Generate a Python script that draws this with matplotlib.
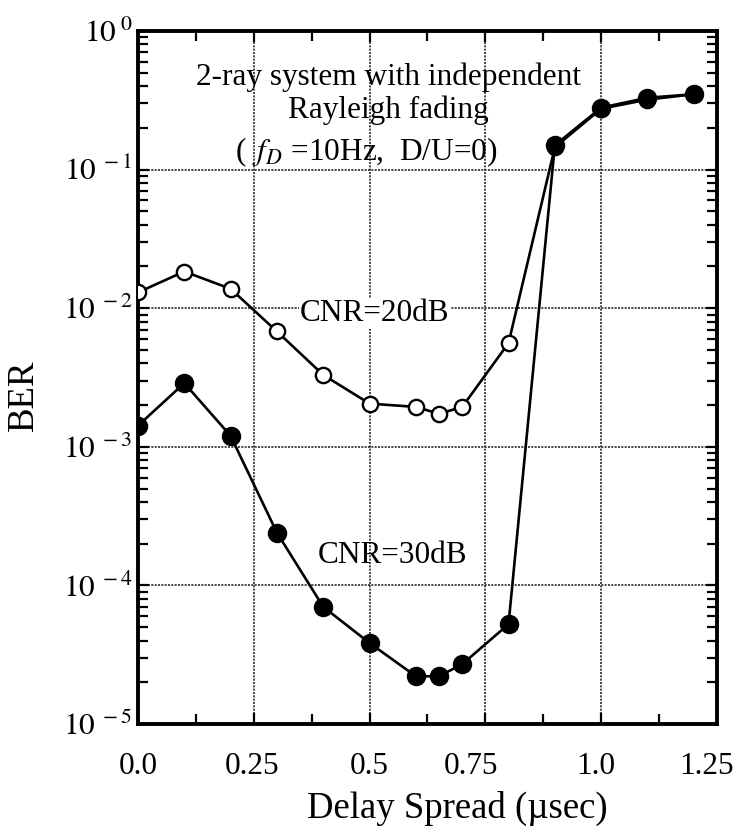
import math
import matplotlib
matplotlib.use("Agg")
import matplotlib.pyplot as plt
import matplotlib.ticker as ticker
import matplotlib.transforms as mtrans
from matplotlib.patches import Rectangle

plt.rcParams["font.family"] = "Liberation Serif"
plt.rcParams["mathtext.fontset"] = "stix"

# delay spread (usec)
delay = [0.0, 0.1, 0.2, 0.3, 0.4, 0.5, 0.6, 0.65, 0.7, 0.8, 0.9, 1.0, 1.1, 1.2]
# BER
ber_20db = [0.013, 0.0184, 0.0138, 0.0068, 0.0033, 0.00205, 0.00194, 0.00173,
            0.00194, 0.0056, 0.145, 0.275, 0.32, 0.35]
ber_30db = [0.00142, 0.00288, 0.0012, 0.00024, 7.0e-5, 3.84e-5, 2.21e-5, 2.21e-5,
            2.7e-5, 5.25e-5, 0.15, 0.28, 0.33, 0.35]

xticks = [0.0, 0.25, 0.5, 0.75, 1.0, 1.25]
xtick_labels = ["0.0", "0.25", "0.5", "0.75", "1.0", "1.25"]
xlabel_shift_px = [0, -2, 0, -14, -5, -10]
FS = 22.5
FS_LABEL = 26.5

fig = plt.figure(figsize=(7.39, 8.34), dpi=100)
ax = fig.add_axes([0.1867, 0.1319, 0.7835, 0.8309])

ax.set_yscale("log")
ax.set_xlim(0, 1.25)
ax.set_ylim(1e-5, 1)

ax.grid(True, which="major", color="0.15", linestyle=(0, (1.2, 0.8)), linewidth=1.2)

# white areas behind the annotation block
ax.add_patch(Rectangle((0.142, 0.78), 0.54, 0.195, transform=ax.transAxes,
                       facecolor="white", edgecolor="none", zorder=1.5))
ax.add_patch(Rectangle((0.68, 0.815), 0.14, 0.175, transform=ax.transAxes,
                       facecolor="white", edgecolor="none", zorder=1.5))

ax.plot(delay, ber_20db, "-o", color="black", lw=1.9, ms=11, mfc="white",
        mec="black", mew=1.7, zorder=3)
ax.plot(delay, ber_30db, "-o", color="black", lw=1.9, ms=13, mfc="black",
        mec="black", zorder=4)

ax.set_xticks(xticks)
ax.set_xticklabels(xtick_labels)
ax.xaxis.set_minor_locator(ticker.MultipleLocator(0.125))
ax.yaxis.set_major_locator(ticker.LogLocator(base=10, numticks=10))
ax.yaxis.set_minor_locator(ticker.LogLocator(base=10, subs=range(2, 10), numticks=20))
ax.yaxis.set_minor_formatter(ticker.NullFormatter())
ax.yaxis.set_major_formatter(ticker.FuncFormatter(
    lambda v, _: "$10^{\\;%d}$" % round(math.log10(v))))

ax.tick_params(which="both", direction="in", top=True, right=True, width=1.6)
ax.tick_params(which="major", length=8)
ax.tick_params(which="minor", length=7)
ax.tick_params(axis="x", which="major", labelsize=FS, pad=20)
ax.tick_params(axis="y", which="major", labelsize=FS, pad=4)
for sp in ax.spines.values():
    sp.set_linewidth(2.8)

# hand nudges of the x tick labels as in the original
for lab, dx in zip(ax.get_xticklabels(), xlabel_shift_px):
    lab.set_transform(lab.get_transform() +
                      mtrans.ScaledTranslation(dx / 100, 0, fig.dpi_scale_trans))

ax.set_xlabel("Delay Spread (µsec)", fontsize=FS_LABEL)
ax.xaxis.set_label_coords(0.551, -0.1356)
ax.xaxis.label.set_verticalalignment("baseline")
ax.set_ylabel("BER", fontsize=FS_LABEL)
ax.yaxis.set_label_coords(-0.198, 0.475)
ax.yaxis.label.set_verticalalignment("center")

ax.text(0.432, 0.922, "2-ray system with independent", transform=ax.transAxes,
        ha="center", va="baseline", fontsize=FS, zorder=5)
ax.text(0.432, 0.874, "Rayleigh fading", transform=ax.transAxes,
        ha="center", va="baseline", fontsize=FS, zorder=5)
ax.text(0.394, 0.814, "( $\\,f_D$ =10Hz,  D/U=0)", transform=ax.transAxes,
        ha="center", va="baseline", fontsize=FS, zorder=5)
ax.text(0.280, 0.5815, "CNR=20dB", transform=ax.transAxes, ha="left",
        va="baseline", fontsize=FS, zorder=5,
        bbox=dict(facecolor="white", edgecolor="none", pad=1))
ax.text(0.311, 0.2323, "CNR=30dB", transform=ax.transAxes, ha="left",
        va="baseline", fontsize=FS, zorder=5)

fig.savefig("out.png", dpi=100)
